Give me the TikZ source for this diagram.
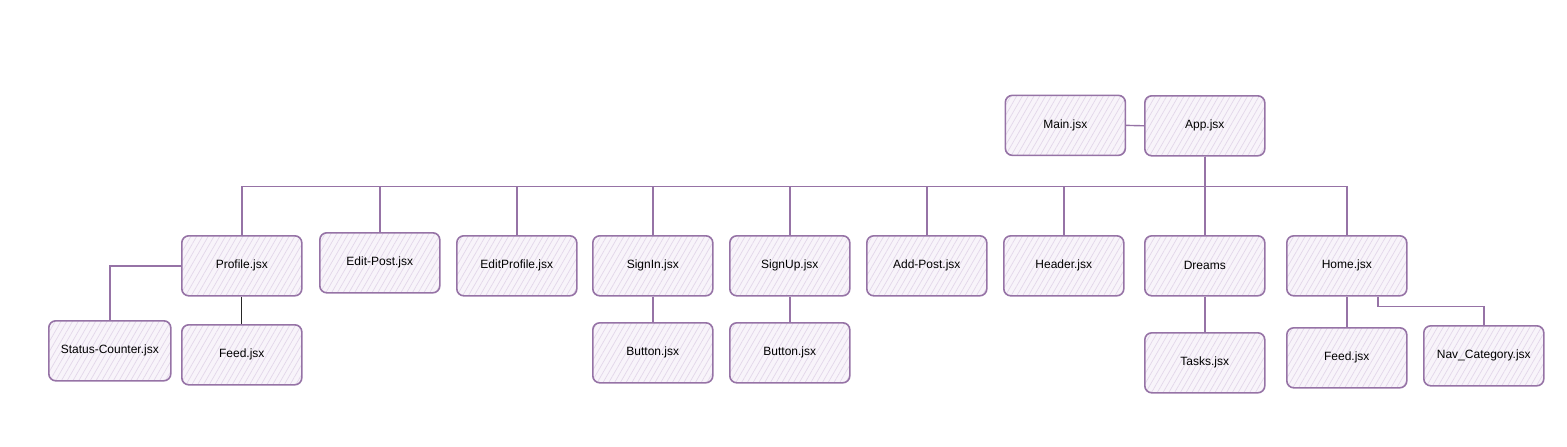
\documentclass[tikz,border=0pt]{standalone}
\usepackage{fontspec}
\setmainfont{Liberation Sans}
\usetikzlibrary{patterns.meta}
\definecolor{pline}{HTML}{9673A6}
\definecolor{pfill}{HTML}{F8F4FA}
\definecolor{phatch}{HTML}{E3D7EA}
\begin{document}
\begin{tikzpicture}[x=1pt,y=-1pt,
  box/.style={draw=pline,line width=1.6pt,rounded corners=7pt,
    preaction={fill=pfill},pattern={Lines[angle=60,distance=5pt,line width=0.7pt]},pattern color=phatch,
    minimum width=120pt,minimum height=60pt,inner sep=0pt,
    font=\fontsize{12}{14}\selectfont,anchor=north west},
  conn/.style={draw=pline,line width=1.4pt},
  connk/.style={draw=black!85,line width=1.1pt}]
\useasboundingbox (0,0) rectangle (1567,447);
% row 1
\node[box] (main) at (1005,95) {Main.jsx};
\node[box] (app) at (1144,95) {App.jsx};
% row 2
\node[box] (profile) at (181,235) {Profile.jsx};
\node[box] (editpost) at (319,232) {Edit-Post.jsx};
\node[box] (editprofile) at (456,235) {EditProfile.jsx};
\node[box] (signin) at (592,235) {SignIn.jsx};
\node[box] (signup) at (729,235) {SignUp.jsx};
\node[box] (addpost) at (866,235) {Add-Post.jsx};
\node[box] (header) at (1003,235) {Header.jsx};
\node[box] (dreams) at (1144,235) {Dreams};
\node[box] (home) at (1286,235) {Home.jsx};
% row 3
\node[box,minimum width=122pt] (status) at (48,320) {Status-Counter.jsx};
\node[box] (feedp) at (181,324) {Feed.jsx};
\node[box] (btn1) at (592,322) {Button.jsx};
\node[box] (btn2) at (729,322) {Button.jsx};
\node[box] (tasks) at (1144,332) {Tasks.jsx};
\node[box] (feedh) at (1286,327) {Feed.jsx};
\node[box] (nav) at (1423,325) {Nav\_Category.jsx};
% connectors
\draw[conn] (main.east) -- (app.west);
\foreach \n in {profile,editpost,editprofile,signin,signup,addpost,header,dreams,home}{
  \draw[conn] (app.south) -- ++(0,30) -| (\n.north);
}
\draw[conn,line width=2.6pt] (app.south) -- ++(0,30);
\draw[conn] (profile.west) -| (status.north);
\draw[connk] (profile.south) -- (feedp.north);
\draw[conn] (signin.south) -- (btn1.north);
\draw[conn] (signup.south) -- (btn2.north);
\draw[conn] (dreams.south) -- (tasks.north);
\draw[conn] (home.south) -- (feedh.north);
\coordinate (hb) at ([xshift=31pt]home.south);
\draw[conn] (hb) -- ++(0,10) -| (nav.north);
\end{tikzpicture}
\end{document}
